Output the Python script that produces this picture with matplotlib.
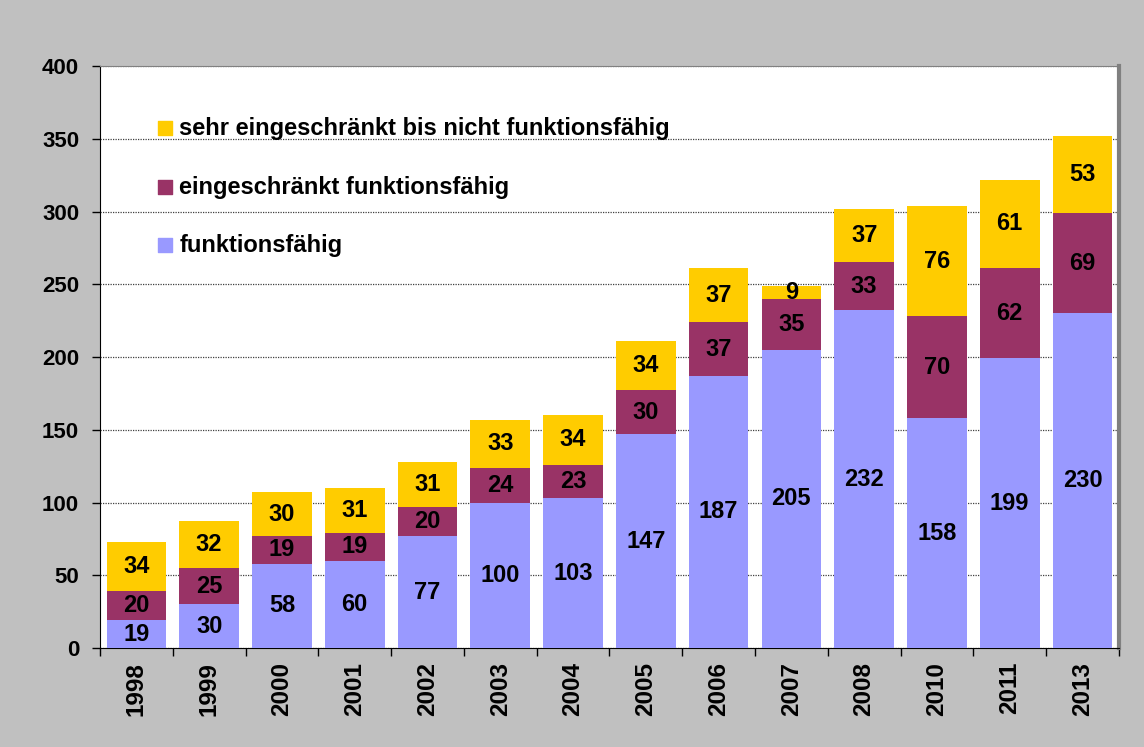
import matplotlib

matplotlib.use("Agg")
import matplotlib.pyplot as plt
import numpy as np

plt.rcParams["font.family"] = ["Liberation Sans", "DejaVu Sans"]
plt.rcParams["font.weight"] = "bold"

years = ["1998", "1999", "2000", "2001", "2002", "2003", "2004",
         "2005", "2006", "2007", "2008", "2010", "2011", "2013"]
funktionsfaehig = [19, 30, 58, 60, 77, 100, 103, 147, 187, 205, 232, 158, 199, 230]
eingeschraenkt = [20, 25, 19, 19, 20, 24, 23, 30, 37, 35, 33, 70, 62, 69]
sehr_eingeschraenkt = [34, 32, 30, 31, 31, 33, 34, 34, 37, 9, 37, 76, 61, 53]

series = [
    ("funktionsfähig", funktionsfaehig, "#9999ff"),
    ("eingeschränkt funktionsfähig", eingeschraenkt, "#993366"),
    ("sehr eingeschränkt bis nicht funktionsfähig", sehr_eingeschraenkt, "#ffcc00"),
]

fig = plt.figure(figsize=(11.44, 7.47), dpi=100)
fig.patch.set_facecolor("#c0c0c0")
ax = fig.add_axes([0.0874, 0.1325, 0.8906, 0.7791])
ax.set_facecolor("white")

x = np.arange(len(years))
bottom = np.zeros(len(years))
for label, vals, color in series:
    vals = np.array(vals, dtype=float)
    ax.bar(x, vals, bottom=bottom, width=0.82, color=color, zorder=3)
    for xi, b, v in zip(x, bottom, vals):
        ax.text(xi, b + v / 2, f"{v:.0f}", ha="center", va="center",
                fontsize=17, fontweight="bold", zorder=4)
    bottom += vals

ax.set_xlim(-0.5, len(years) - 0.5)
ax.set_ylim(0, 400)
ax.set_yticks(range(0, 401, 50))
ax.tick_params(axis="y", labelsize=16, length=6, direction="out", width=1, pad=9)

# category boundaries carry the tick marks, labels sit at the centres
ax.set_xticks(np.arange(len(years) + 1) - 0.5)
ax.set_xticklabels([])
ax.tick_params(axis="x", which="major", length=6, width=1)
ax.set_xticks(x, minor=True)
ax.set_xticklabels(years, minor=True, rotation=90, fontsize=17.5, fontweight="bold")
ax.tick_params(axis="x", which="minor", length=0, pad=10)

ax.grid(axis="y", color="#404040", linestyle=(0, (1, 1)), linewidth=0.9, zorder=0)
ax.spines["top"].set_color("#808080")
ax.spines["right"].set_color("#808080")
ax.spines["right"].set_linewidth(3)
ax.spines["left"].set_color("black")
ax.spines["bottom"].set_color("black")

# hand-placed legend, top entry first
legend_y = [0.893, 0.792, 0.692]
for (label, _vals, color), ly in zip(series[::-1], legend_y):
    ax.scatter([0.064], [ly], marker="s", s=110, color=color,
               transform=ax.transAxes, zorder=5, clip_on=False)
    ax.text(0.078, ly, label, transform=ax.transAxes, ha="left", va="center",
            fontsize=17, fontweight="bold", zorder=5)

fig.savefig("out.png", facecolor=fig.get_facecolor())
